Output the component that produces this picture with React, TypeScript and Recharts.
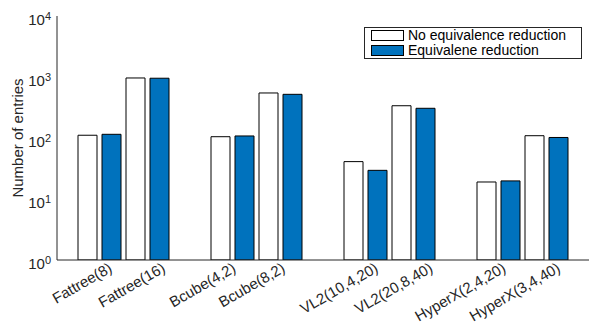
import { Bar, BarChart, XAxis, YAxis, Legend } from "recharts"

const categories = [
  "Fattree(8)",
  "Fattree(16)",
  "Bcube(4,2)",
  "Bcube(8,2)",
  "VL2(10,4,20)",
  "VL2(20,8,40)",
  "HyperX(2,4,20)",
  "HyperX(3,4,40)",
]
const noReduction = [111, 964, 105, 547, 41, 338, 19, 109]
const withReduction = [115, 955, 108, 520, 29.5, 307, 19.8, 102]
const groups = ["Fattree", "Bcube", "VL2", "HyperX"]
// where the tick labels sit on the 0.5..4.5 group axis
const labelPositions = [0.9, 1.3, 1.83, 2.2, 2.9, 3.31, 3.86, 4.27]
const majorTicks = [1, 10, 100, 1000, 10000]
const minorTicks = majorTicks.slice(0, -1).flatMap((d) => [2, 3, 4, 5, 6, 7, 8, 9].map((k) => k * d))
const allTicks = [...majorTicks, ...minorTicks].sort((a, b) => a - b)
const seriesNames = ["No equivalence reduction", "Equivalene reduction"]

const data = groups.map((g, i) => ({
  group: g,
  pos: i + 1,
  noA: noReduction[2 * i],
  eqA: withReduction[2 * i],
  noB: noReduction[2 * i + 1],
  eqB: withReduction[2 * i + 1],
}))

const FONT = "'Liberation Sans', Arial, Helvetica, sans-serif"
const INK = "#262626"
const BLUE = "#0072BD"

const isMajor = (v: number) => Math.abs(Math.log10(v) - Math.round(Math.log10(v))) < 1e-9

const PowerTick = (props: any) => {
  const { x, y, payload } = props
  const exp = Math.round(Math.log10(payload.value))
  return (
    <text x={x} y={y} textAnchor="end" fontSize={15} fill={INK} fontFamily={FONT}>
      <tspan dy={9}>10</tspan>
      <tspan dy={-5} fontSize={11}>{exp}</tspan>
    </text>
  )
}

const InnerTickLeft = (props: any) => {
  const { x, y, payload } = props
  const len = isMajor(payload.value) ? 5 : 3
  return <line x1={x} x2={x + len} y1={y} y2={y} stroke={INK} />
}

const InnerTickRight = (props: any) => {
  const { x, y, payload } = props
  const len = isMajor(payload.value) ? 5 : 3
  return <line x1={x} x2={x - len} y1={y} y2={y} stroke={INK} />
}

const RotatedTick = (props: any) => {
  const { x, y, index } = props
  const ax = x + 3
  const ay = y + 11
  return (
    <text
      x={ax}
      y={ay}
      transform={`rotate(-30, ${ax}, ${ay})`}
      textAnchor="end"
      fontSize={15}
      fill={INK}
      fontFamily={FONT}
    >
      {categories[index]}
    </text>
  )
}

const LegendBox = (props: any) => {
  const items = (props.payload || []).filter((p: any) => p.type !== "none")
  return (
    <div
      style={{
        border: `1px solid ${INK}`,
        background: "#fff",
        padding: "0px 4px 0px 6px",
        height: 30,
        fontFamily: FONT,
        fontSize: 14,
        color: "#000",
        lineHeight: "15px",
      }}
    >
      {items.map((p: any) => (
        <div key={p.value} style={{ display: "flex", alignItems: "center", height: 15 }}>
          <span
            style={{
              display: "inline-block",
              width: 31,
              height: 9,
              background: p.payload?.fill ?? p.color,
              border: "1px solid #000",
              marginRight: 4,
              flexShrink: 0,
            }}
          />
          <span style={{ whiteSpace: "nowrap" }}>{p.value}</span>
        </div>
      ))}
    </div>
  )
}

export default function App() {
  return (
    <div style={{ width: 591, height: 324, background: "#fff" }}>
      <style>{"body{margin:0}"}</style>
      <BarChart
        width={591}
        height={324}
        data={data}
        margin={{ top: 16, right: 2, bottom: 0, left: 0 }}
        barSize={19}
        barGap={5}
      >
        <XAxis xAxisId="bars" dataKey="group" hide height={0} />
        <XAxis
          xAxisId="lbl"
          dataKey="pos"
          type="number"
          domain={[0.5, 4.5]}
          allowDataOverflow
          ticks={labelPositions}
          interval={0}
          tickLine={false}
          tickSize={0}
          tickMargin={0}
          axisLine={{ stroke: INK }}
          tick={<RotatedTick />}
          height={64}
        />
        <XAxis
          xAxisId="top"
          orientation="top"
          mirror
          dataKey="pos"
          type="number"
          domain={[0.5, 4.5]}
          allowDataOverflow
          ticks={labelPositions}
          interval={0}
          tickSize={5}
          tickLine={{ stroke: INK }}
          tickFormatter={() => ""}
          axisLine={{ stroke: INK }}
          height={0}
        />
        <YAxis
          yAxisId="y"
          type="number"
          scale="log"
          domain={[1, 10000]}
          allowDataOverflow
          ticks={majorTicks}
          interval={0}
          tickLine={false}
          tickSize={0}
          tickMargin={6}
          axisLine={{ stroke: INK }}
          tick={<PowerTick />}
          width={57}
          label={{
            value: "Number of entries",
            angle: -90,
            position: "center",
            dx: -11,
            fontSize: 15,
            fill: INK,
            fontFamily: FONT,
          }}
        />
        <YAxis
          yAxisId="minorL"
          orientation="left"
          mirror
          type="number"
          scale="log"
          domain={[1, 10000]}
          allowDataOverflow
          ticks={allTicks}
          interval={0}
          tickLine={false}
          tickSize={0}
          tickMargin={0}
          axisLine={false}
          tick={<InnerTickLeft />}
          width={0}
        />
        <YAxis
          yAxisId="minorR"
          orientation="right"
          mirror
          type="number"
          scale="log"
          domain={[1, 10000]}
          allowDataOverflow
          ticks={allTicks}
          interval={0}
          tickLine={false}
          tickSize={0}
          tickMargin={0}
          axisLine={{ stroke: INK }}
          tick={<InnerTickRight />}
          width={0}
        />
        <Legend
          layout="horizontal"
          verticalAlign="middle"
          align="center"
          itemSorter={(item: any) => seriesNames.indexOf(item.value)}
          wrapperStyle={{ left: 364, top: 27, width: 218 }}
          content={<LegendBox />}
        />
        <Bar xAxisId="bars" yAxisId="y" dataKey="noA" name={seriesNames[0]} fill="#fff" stroke="#000" isAnimationActive={false} />
        <Bar xAxisId="bars" yAxisId="y" dataKey="eqA" name={seriesNames[1]} fill={BLUE} stroke="#000" isAnimationActive={false} />
        <Bar xAxisId="bars" yAxisId="y" dataKey="noB" fill="#fff" stroke="#000" legendType="none" isAnimationActive={false} />
        <Bar xAxisId="bars" yAxisId="y" dataKey="eqB" fill={BLUE} stroke="#000" legendType="none" isAnimationActive={false} />
      </BarChart>
    </div>
  )
}
